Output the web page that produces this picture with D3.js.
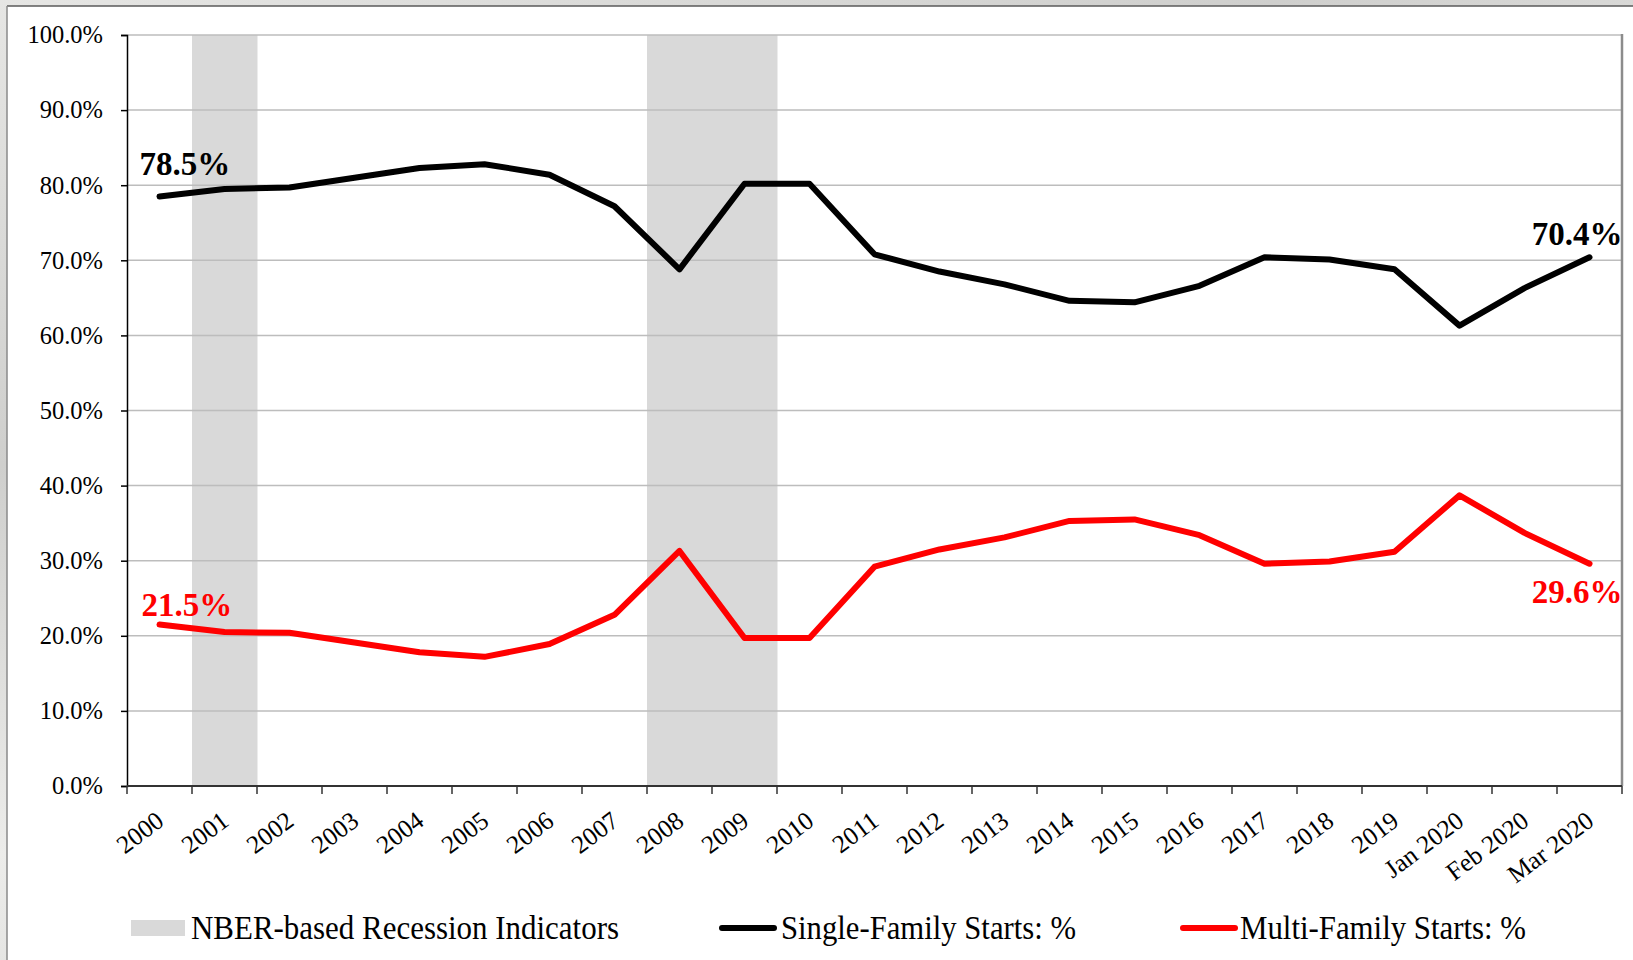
<!DOCTYPE html>
<html>
<head>
<meta charset="utf-8">
<script src="https://cdn.jsdelivr.net/npm/d3@7"></script>
<style>
  html, body { margin: 0; padding: 0; }
  body { width: 1633px; height: 960px; overflow: hidden;
         background: linear-gradient(160deg, #e6e6e4 0%, #cfcfcd 30%, #ececea 55%, #d4d4d2 80%, #e8e8e6 100%); }
  svg { display: block; font-family: "Liberation Serif", "Times New Roman", serif; }
</style>
</head>
<body>
<div id="chart"></div>
<script>
'use strict';

// categories on the x axis
var categories = ["2000", "2001", "2002", "2003", "2004", "2005", "2006", "2007", "2008", "2009",
    "2010", "2011", "2012", "2013", "2014", "2015", "2016", "2017", "2018", "2019",
    "Jan 2020", "Feb 2020", "Mar 2020"];

// share of starts, percent
var singleFamily = [78.5, 79.5, 79.7, 81.0, 82.3, 82.8, 81.4, 77.2, 68.8, 80.2, 80.2, 70.8,
    68.5, 66.8, 64.6, 64.4, 66.6, 70.4, 70.1, 68.8, 61.3, 66.3, 70.4];
var multiFamily = [21.5, 20.5, 20.4, 19.1, 17.8, 17.2, 18.9, 22.8, 31.3, 19.7, 19.7, 29.2,
    31.5, 33.1, 35.3, 35.5, 33.4, 29.6, 29.9, 31.2, 38.7, 33.7, 29.6];

// NBER recession periods
var recessions = ["2001", "2008", "2009"];

var yTicks = [0, 10, 20, 30, 40, 50, 60, 70, 80, 90, 100];

var legendLabels = ["NBER-based Recession Indicators", "Single-Family Starts: %", "Multi-Family Starts: %"];

var width = 1633, height = 960;
var margin = { top: 35, right: 11, bottom: 174, left: 127 };

var svg = d3.select("#chart").append("svg")
    .attr("width", width)
    .attr("height", height);

// white slide frame
svg.append("rect")
    .attr("x", 7).attr("y", 6)
    .attr("width", width).attr("height", height)
    .attr("fill", "#fff");
svg.append("line")
    .attr("x1", 7).attr("x2", width).attr("y1", 6).attr("y2", 6)
    .attr("stroke", "#5a5a5a").attr("stroke-width", 1.5);
svg.append("line")
    .attr("x1", 7).attr("x2", 7).attr("y1", 6).attr("y2", height)
    .attr("stroke", "#8a8a8a").attr("stroke-width", 1.5);

var x = d3.scaleBand()
    .domain(categories)
    .range([margin.left, width - margin.right])
    .padding(0);
var y = d3.scaleLinear()
    .domain([0, 100])
    .range([height - margin.bottom, margin.top]);

var cx = function (d) { return x(d) + x.bandwidth() / 2; };

// recession shading
svg.selectAll(".recession")
    .data(recessions)
    .enter().append("rect")
    .attr("class", "recession")
    .attr("x", function (d) { return x(d); })
    .attr("width", x.bandwidth() + 0.5)
    .attr("y", y(100))
    .attr("height", y(0) - y(100))
    .attr("fill", "#d9d9d9");

// gridlines
svg.append("g")
    .selectAll("line")
    .data(yTicks.slice(1))
    .enter().append("line")
    .attr("x1", margin.left).attr("x2", width - margin.right)
    .attr("y1", function (d) { return y(d); })
    .attr("y2", function (d) { return y(d); })
    .attr("stroke", "#bdbdbd").attr("stroke-width", 1.5);

// plot area right border
svg.append("line")
    .attr("x1", width - margin.right).attr("x2", width - margin.right)
    .attr("y1", y(100) - 1).attr("y2", y(0))
    .attr("stroke", "#8c8c8c").attr("stroke-width", 2.5);

// y axis
var yAxis = svg.append("g")
    .attr("transform", "translate(" + margin.left + ",0)")
    .call(d3.axisLeft(y).tickValues(yTicks).tickSize(6).tickPadding(18)
        .tickFormat(function (d) { return d3.format(".1f")(d) + "%"; }));
yAxis.select(".domain").attr("stroke", "#000").attr("stroke-width", 1.5);
yAxis.selectAll(".tick line").attr("stroke", "#000").attr("stroke-width", 1.5);
yAxis.selectAll("text")
    .attr("font-family", "Liberation Serif")
    .attr("font-size", 24.5)
    .attr("fill", "#000");

// x axis, ticks on band edges
var xAxis = svg.append("g")
    .attr("transform", "translate(0," + y(0) + ")");
xAxis.append("line")
    .attr("x1", margin.left).attr("x2", width - margin.right)
    .attr("stroke", "#333").attr("stroke-width", 2);
xAxis.selectAll(".edge")
    .data(categories.concat(["end"]))
    .enter().append("line")
    .attr("class", "edge")
    .attr("x1", function (d, i) { return i < categories.length ? x(d) : x.range()[1]; })
    .attr("x2", function (d, i) { return i < categories.length ? x(d) : x.range()[1]; })
    .attr("y1", 0).attr("y2", 8)
    .attr("stroke", "#333").attr("stroke-width", 1.5);
xAxis.selectAll(".xlabel")
    .data(categories)
    .enter().append("text")
    .attr("class", "xlabel")
    .attr("transform", function (d) { return "translate(" + (cx(d) + 6) + ",38) rotate(-37)"; })
    .attr("text-anchor", "end")
    .attr("font-size", 25.5)
    .attr("fill", "#000")
    .text(function (d) { return d; });

// lines
var line = d3.line()
    .x(function (d, i) { return cx(categories[i]); })
    .y(function (d) { return y(d); });

svg.append("path")
    .datum(singleFamily)
    .attr("d", line)
    .attr("fill", "none")
    .attr("stroke", "#000")
    .attr("stroke-width", 6)
    .attr("stroke-linejoin", "round")
    .attr("stroke-linecap", "round");

svg.append("path")
    .datum(multiFamily)
    .attr("d", line)
    .attr("fill", "none")
    .attr("stroke", "#ff0000")
    .attr("stroke-width", 6)
    .attr("stroke-linejoin", "round")
    .attr("stroke-linecap", "round");

// end-point labels
var last = categories.length - 1;
var labels = [
    { text: singleFamily[0].toFixed(1) + "%", x: cx(categories[0]) - 20, y: y(singleFamily[0]) - 21, anchor: "start", color: "#000" },
    { text: multiFamily[0].toFixed(1) + "%", x: cx(categories[0]) - 18, y: y(multiFamily[0]) - 9, anchor: "start", color: "#ff0000" },
    { text: singleFamily[last].toFixed(1) + "%", x: cx(categories[last]) + 33, y: y(singleFamily[last]) - 12, anchor: "end", color: "#000" },
    { text: multiFamily[last].toFixed(1) + "%", x: cx(categories[last]) + 33, y: y(multiFamily[last]) + 39, anchor: "end", color: "#ff0000" }
];
svg.selectAll(".endlabel")
    .data(labels)
    .enter().append("text")
    .attr("class", "endlabel")
    .attr("x", function (d) { return d.x; })
    .attr("y", function (d) { return d.y; })
    .attr("text-anchor", function (d) { return d.anchor; })
    .attr("font-size", 33)
    .attr("font-weight", "bold")
    .attr("fill", function (d) { return d.color; })
    .text(function (d) { return d.text; });

// legend
var legend = svg.append("g").attr("transform", "translate(0,928)");
legend.append("rect")
    .attr("x", 131).attr("y", -8)
    .attr("width", 54).attr("height", 16)
    .attr("fill", "#d9d9d9");
legend.append("line")
    .attr("x1", 722).attr("x2", 774)
    .attr("stroke", "#000").attr("stroke-width", 6).attr("stroke-linecap", "round");
legend.append("line")
    .attr("x1", 1183).attr("x2", 1235)
    .attr("stroke", "#ff0000").attr("stroke-width", 6).attr("stroke-linecap", "round");

var legendText = [
    { x: 191, w: 428 },
    { x: 781, w: 295 },
    { x: 1240, w: 286 }
];
legend.selectAll(".ltext")
    .data(legendLabels)
    .enter().append("text")
    .attr("class", "ltext")
    .attr("x", function (d, i) { return legendText[i].x; })
    .attr("y", 11)
    .attr("font-size", 33)
    .attr("textLength", function (d, i) { return legendText[i].w; })
    .attr("lengthAdjust", "spacingAndGlyphs")
    .attr("fill", "#000")
    .text(function (d) { return d; });
</script>
</body>
</html>
